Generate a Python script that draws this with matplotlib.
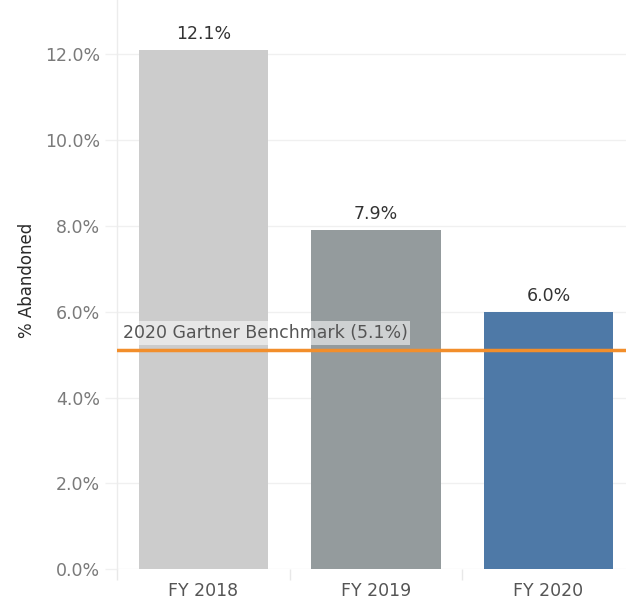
import matplotlib
matplotlib.use("Agg")
import matplotlib.pyplot as plt
from matplotlib.ticker import FixedLocator

categories = ["FY 2018", "FY 2019", "FY 2020"]
values = [12.1, 7.9, 6.0]
bar_colors = ["#cccccc", "#949b9d", "#4e79a7"]
benchmark = 5.1
benchmark_label = "2020 Gartner Benchmark (5.1%)"
yticks = [0, 2, 4, 6, 8, 10, 12]
ytick_labels = ["0.0%", "2.0%", "4.0%", "6.0%", "8.0%", "10.0%", "12.0%"]

W, H = 626, 601
fig = plt.figure(figsize=(W / 100, H / 100), dpi=100)
ax = fig.add_axes([117 / W, (H - 569.3) / H, (W - 117) / W, 569.3 / H])

x = list(range(len(categories)))
ax.bar(x, values, width=0.75, color=bar_colors, zorder=2)

ax.set_ylim(0, 13.26)
ax.set_xlim(-0.5, 2.449)

ax.set_yticks(yticks)
ax.set_yticklabels(ytick_labels, fontsize=12.5, color="#7a7a7a")
ax.set_xticks(x)
ax.set_xticklabels(categories, fontsize=12.5, color="#555555")
ax.xaxis.set_minor_locator(FixedLocator([-0.5, 0.5, 1.5]))
ax.tick_params(axis="x", which="major", length=0, pad=9)
ax.tick_params(axis="x", which="minor", length=8, color="#e8e8e8", width=1)
ax.tick_params(axis="y", which="major", length=9, color="#f0f0f0", width=1, pad=3)

ax.grid(axis="y", color="#f0f0f0", linewidth=1, zorder=0)
for s in ["top", "right", "bottom"]:
    ax.spines[s].set_visible(False)
ax.spines["left"].set_color("#ececec")
ax.spines["left"].set_linewidth(1)

ax.set_ylabel("% Abandoned", fontsize=12, color="#2a2a2a")
ax.yaxis.set_label_coords(-(117 - 36) / (W - 117), (569.3 - 280) / 569.3)

for xi, v in zip(x, values):
    ax.annotate(f"{v:.1f}%", (xi, v), xytext=(0, 5), textcoords="offset points",
                ha="center", va="bottom", fontsize=12.5, color="#333333", zorder=4)

ax.axhline(benchmark, color="#f28e2b", linewidth=2.5, zorder=3)
ax.annotate(benchmark_label, (-0.5, benchmark), xytext=(4, 6), textcoords="offset points",
            ha="left", va="bottom", fontsize=12.5, color="#555555", zorder=4,
            bbox=dict(boxstyle="square,pad=0.15", facecolor="white", alpha=0.55, edgecolor="none"))

fig.savefig("out.png", dpi=100)
